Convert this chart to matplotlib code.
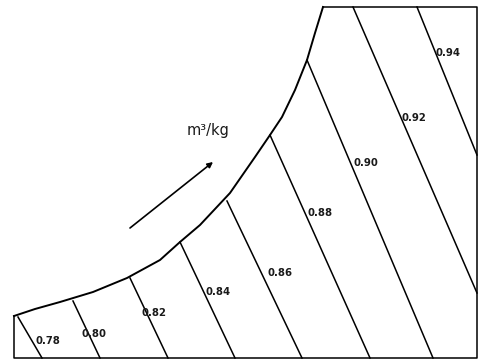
import numpy as np
import matplotlib
matplotlib.use("Agg")
import matplotlib.pyplot as plt

# specific volume lines (m3/kg) in pixel units
volumes = ["0.78", "0.80", "0.82", "0.84", "0.86", "0.88", "0.90", "0.92", "0.94"]
top_x = [18, 73, 130, 180, 227, 270, 307, 353, 417]
top_y = [317, 301, 278, 242, 201, 135, 60, 7, 7]
bot_x = [42, 100, 168, 235, 302, 370, 433, 477, 477]
bot_y = [358, 358, 358, 358, 358, 358, 358, 293, 155]

# label anchor points (left edge, middle)
label_x = [35, 82, 142, 205, 267, 308, 353, 402, 435]
label_y = [341, 334, 313, 292, 273, 213, 163, 118, 53]

# saturation curve
sat_x = [14, 35, 60, 93, 127, 160, 180, 200, 230, 255, 270, 282, 295, 307, 315, 323]
sat_y = [316, 309, 302, 292, 278, 260, 242, 225, 193, 157, 135, 117, 90, 60, 33, 7]

# chart frame
frame_x = [323, 477, 477, 14, 14]
frame_y = [7, 7, 358, 358, 316]

fig = plt.figure(figsize=(4.8, 3.6), dpi=100)
ax = fig.add_axes([0, 0, 1, 1])
ax.set_xlim(0, 480)
ax.set_ylim(360, 0)
ax.axis("off")

ax.plot(sat_x, sat_y, color="black", lw=1.4, solid_joinstyle="round")
ax.plot(frame_x, frame_y, color="black", lw=1.1)

for i in range(len(volumes)):
    ax.plot([top_x[i], bot_x[i]], [top_y[i], bot_y[i]], color="black", lw=1.1)
    ax.text(label_x[i], label_y[i], volumes[i], ha="left", va="center",
            fontsize=7.3, family=["Liberation Sans Narrow", "DejaVu Sans"],
            fontweight="bold", color="#1a1a1a")

# direction arrow + unit
ax.annotate("", xy=(213, 162), xytext=(130, 228),
            arrowprops=dict(arrowstyle="-|>", color="black", lw=1.2,
                            mutation_scale=8, shrinkA=0, shrinkB=0))
ax.text(208, 130, "m³/kg", ha="center", va="center", fontsize=10.5,
        family=["Liberation Sans Narrow", "DejaVu Sans"], color="#1a1a1a")

fig.savefig("out.png", dpi=100)
